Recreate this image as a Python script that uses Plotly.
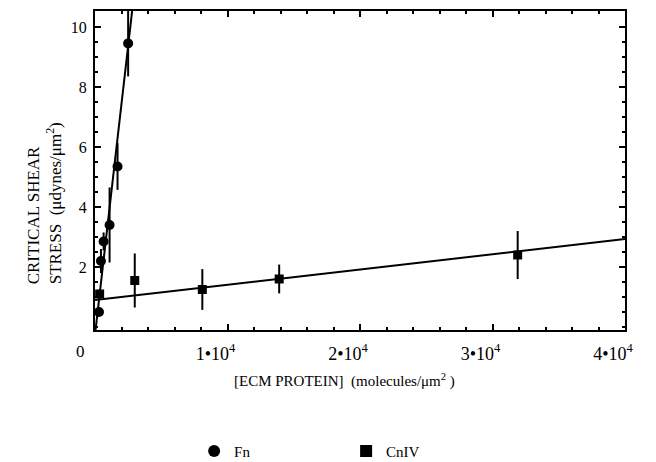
import numpy as np
import plotly.graph_objects as go

# --- data ---
fn_x = [300, 450, 650, 1100, 1700, 2500]
fn_y = [0.5, 2.2, 2.85, 3.4, 5.35, 9.45]
fn_err = [0.15, 0.4, 0.3, 1.25, 0.78, 1.1]

cn_x = [350, 3000, 8100, 13900, 31900]
cn_y = [1.1, 1.55, 1.25, 1.6, 2.4]
cn_err = [0.15, 0.9, 0.68, 0.48, 0.8]

# linear fits (slope, intercept) and x extents
fn_fit = (0.00385, -0.26)
fn_fit_x = [0, 2900]
cn_fit = (5.08e-5, 0.9)
cn_fit_x = [0, 40000]

x_tickvals = [10000, 20000, 30000, 40000]
x_ticktext = ["1•10<sup>4</sup>", "2•10<sup>4</sup>", "3•10<sup>4</sup>", "4•10<sup>4</sup>"]
y_tickvals = [2, 4, 6, 8, 10]

FONT = "Liberation Serif"

fig = go.Figure()

fx = np.array(fn_fit_x, dtype=float)
fig.add_trace(go.Scatter(x=fx, y=fn_fit[0] * fx + fn_fit[1], mode="lines",
                         line=dict(color="black", width=2), showlegend=False, hoverinfo="skip"))
cx = np.array(cn_fit_x, dtype=float)
fig.add_trace(go.Scatter(x=cx, y=cn_fit[0] * cx + cn_fit[1], mode="lines",
                         line=dict(color="black", width=2), showlegend=False, hoverinfo="skip"))

fig.add_trace(go.Scatter(
    x=fn_x, y=fn_y, mode="markers", name="Fn",
    marker=dict(symbol="circle", size=10, color="black"),
    error_y=dict(type="data", array=fn_err, color="black", thickness=2, width=0),
))
fig.add_trace(go.Scatter(
    x=cn_x, y=cn_y, mode="markers", name="CnIV",
    marker=dict(symbol="square", size=9, color="black"),
    error_y=dict(type="data", array=cn_err, color="black", thickness=2, width=0),
))

fig.update_xaxes(
    range=[0, 40000], tickvals=x_tickvals, ticktext=x_ticktext,
    ticks="inside", ticklen=6, tickwidth=1.5, tickcolor="black",
    minor=dict(dtick=2000, ticks="inside", ticklen=3, tickcolor="black"),
    showline=True, linecolor="black", linewidth=2, mirror="ticks",
    showgrid=False, zeroline=False, ticklabelshift=-12, ticklabelstandoff=6,
    tickfont=dict(family=FONT, size=18, color="black"),
)
fig.update_yaxes(
    range=[-0.1, 10.53], tickvals=y_tickvals,
    ticks="inside", ticklen=6, tickwidth=1.5, tickcolor="black",
    minor=dict(dtick=0.5, ticks="inside", ticklen=3, tickcolor="black"),
    showline=True, linecolor="black", linewidth=2, mirror="ticks",
    showgrid=False, zeroline=False, ticklabelstandoff=3,
    tickfont=dict(family=FONT, size=16, color="black"),
)

fig.add_annotation(x=0, y=0, xref="x", yref="y", text="0", showarrow=False,
                   xshift=-15, yshift=-24, font=dict(family=FONT, size=17, color="black"))
fig.add_annotation(x=-0.095, y=0.396, xref="paper", yref="paper", xanchor="center", yanchor="middle",
                   text="CRITICAL SHEAR<br>STRESS  (μdynes/μm<sup>2</sup>)",
                   textangle=-90, align="left", showarrow=False,
                   font=dict(family=FONT, size=17, color="black"))
fig.add_annotation(x=0.47, y=(330 - 380) / 319, xref="paper", yref="paper", yanchor="middle",
                   text="[ECM PROTEIN]  (molecules/μm<sup>2</sup> )", showarrow=False,
                   font=dict(family=FONT, size=15, color="black"))

fig.update_layout(
    width=656, height=462,
    margin=dict(l=95, r=31, t=11, b=132, autoexpand=False),
    paper_bgcolor="white", plot_bgcolor="white",
    showlegend=True,
    legend=dict(orientation="h", x=0.187, y=-0.38, xanchor="left", yanchor="middle",
                entrywidth=107, entrywidthmode="pixels",
                font=dict(family=FONT, size=15, color="black"), itemsizing="constant"),
)

fig.write_html("out.html", config={"displayModeBar": False},
               post_script="document.body.style.margin='0';document.body.style.overflow='hidden';")
